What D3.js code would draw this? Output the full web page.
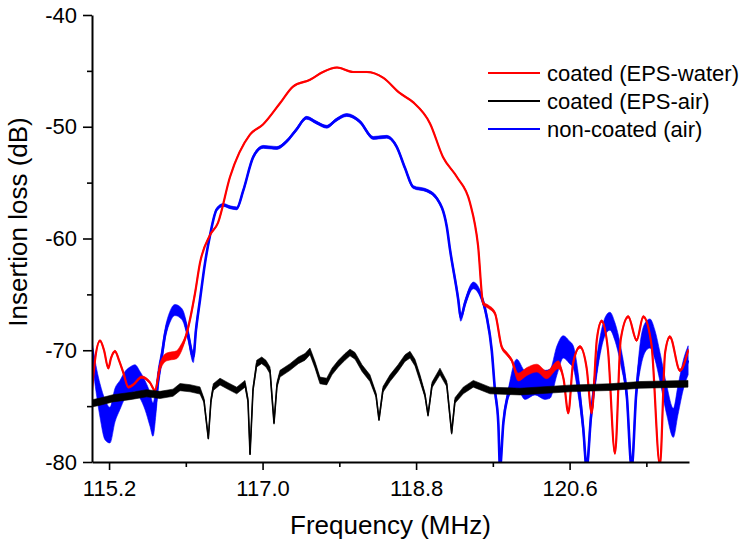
<!DOCTYPE html>
<html>
<head>
<meta charset="utf-8">
<script src="https://cdn.jsdelivr.net/npm/d3@7"></script>
<style>
  html, body { margin: 0; padding: 0; background: #fff; }
  svg { display: block; }
  text { font-family: "Liberation Sans", Arial, sans-serif; fill: #000; }
</style>
</head>
<body>
<svg id="chart" width="752" height="545"></svg>
<script>
// ---------- data ----------
const xMajorTicks = [115.2, 117.0, 118.8, 120.6];
const xMinorTicks = [116.1, 117.9, 119.7, 121.5];
const yMajorTicks = [-80, -70, -60, -50, -40];
const yMinorTicks = [-75, -65, -55, -45];

const seriesNames = ["coated (EPS-water)", "coated (EPS-air)", "non-coated (air)"];
const seriesColors = ["#ff0000", "#000000", "#0000ff"];

// coated (EPS-water) – red
const redFreq = [115.00,115.035,115.094,115.141,115.191,115.223,115.270,115.317,115.367,115.426,115.481,115.583,115.680,115.739,115.797,115.876,115.993,116.032,116.110,116.208,116.266,116.383,116.477,116.618,116.852,117.005,117.204,117.357,117.556,117.708,117.873,118.060,118.224,118.412,118.611,118.764,118.963,119.115,119.279,119.432,119.526,119.587,119.646,119.725,119.804,119.862,119.921,119.998,120.100,120.214,120.331,120.467,120.53,120.585,120.64,120.722,120.80,120.859,120.92,120.976,121.05,121.132,121.20,121.288,121.386,121.464,121.56,121.659,121.72,121.776,121.894,121.99];
const redDB   = [-73.6,-70.9,-69.15,-70.0,-71.6,-70.7,-70.1,-70.9,-72.0,-73.3,-73.1,-72.4,-72.9,-73.6,-71.5,-70.6,-70.4,-70.0,-68.5,-64.9,-62.2,-59.7,-58.6,-54.5,-50.7,-49.8,-47.9,-46.4,-45.8,-45.1,-44.7,-45.1,-45.1,-45.6,-47.0,-47.8,-49.7,-52.7,-54.5,-56.8,-60.6,-65.8,-66.1,-66.7,-69.7,-70.3,-70.9,-72.4,-71.9,-71.6,-72.2,-71.3,-72.6,-75.6,-71.2,-69.7,-71.6,-75.6,-69.0,-67.4,-70.0,-79.2,-69.0,-67.0,-69.1,-67.0,-69.5,-80.3,-70.2,-68.8,-71.8,-70.0];
const redNoise = [0.1,0.1,0.1,0.1,0.1,0.1,0.1,0.1,0.1,0.1,0.1,0.1,0.1,0.1,
  0.35,0.35,0.35,0.35,0.15,0.15,
  0.05,0.05,0.05,0.05,0.05,0.05,0.05,0.05,0.05,0.05,0.05,0.05,0.05,0.05,0.05,0.05,0.05,0.05,0.05,0.05,0.05,
  0.15,0.15,0.15,0.15,0.15,0.15,
  0.35,0.35,0.35,0.35,0.35,
  0.12,0.12,0.12,0.12,0.12,0.12,0.12,0.12,0.12,0.12,0.12,0.12,0.12,0.12,0.12,0.12,0.12,0.12,0.12,0.12];

// coated (EPS-air) – black
const blackFreq = [115.00,115.094,115.246,115.446,115.641,115.797,115.950,116.032,116.149,116.266,116.313,116.364,116.395,116.422,116.501,116.595,116.697,116.794,116.829,116.853,116.888,116.931,116.990,117.040,117.087,117.134,117.169,117.204,117.322,117.419,117.497,117.556,117.615,117.673,117.752,117.814,117.888,117.966,118.025,118.084,118.166,118.259,118.330,118.365,118.412,118.494,118.588,118.670,118.729,118.787,118.846,118.904,118.940,118.987,119.080,119.159,119.217,119.256,119.353,119.471,119.667,120.018,120.640,121.073,121.425,121.988];
const blackDB   = [-74.75,-74.6,-74.3,-74.1,-73.85,-74.0,-73.8,-73.3,-73.4,-73.6,-74.5,-77.9,-74.5,-73.3,-72.8,-73.2,-73.6,-73.0,-74.5,-79.3,-73.5,-71.2,-70.9,-71.2,-71.8,-76.5,-73.1,-72.1,-71.5,-70.9,-70.6,-70.1,-71.3,-72.7,-72.8,-71.9,-71.2,-70.6,-70.2,-70.5,-71.6,-72.5,-74.0,-76.2,-73.5,-72.5,-71.6,-70.7,-70.4,-71.1,-72.5,-74.0,-75.8,-73.1,-71.9,-73.0,-77.4,-74.5,-73.6,-73.0,-73.6,-73.7,-73.4,-73.3,-73.1,-73.0];
const blackNoise = [0.32,0.32,0.32,0.32,0.32,0.32,0.32,0.32,0.32,0.32,0.2,0.06,0.2,0.3,0.3,0.3,0.3,0.3,0.2,0.06,0.2,0.3,0.3,0.3,0.3,0.12,0.25,0.3,0.3,0.3,0.3,0.3,0.3,0.3,0.3,0.3,0.3,0.3,0.3,0.3,0.3,0.3,0.2,0.12,0.25,0.3,0.3,0.3,0.3,0.3,0.3,0.2,0.12,0.25,0.3,0.25,0.12,0.25,0.3,0.3,0.3,0.3,0.3,0.3,0.3,0.3];

// non-coated (air) – blue
const blueFreq = [115.00,115.023,115.055,115.094,115.152,115.211,115.270,115.328,115.387,115.446,115.504,115.563,115.621,115.680,115.715,115.750,115.774,115.817,115.856,115.915,115.973,116.032,116.071,116.126,116.188,116.219,116.266,116.325,116.384,116.462,116.540,116.618,116.697,116.774,116.891,117.009,117.166,117.283,117.392,117.517,117.626,117.752,117.861,117.986,118.142,118.298,118.455,118.573,118.670,118.767,118.924,119.042,119.159,119.198,119.295,119.323,119.373,119.471,119.549,119.628,119.687,119.725,119.764,119.784,119.823,119.881,119.980,
  120.077,120.194,120.312,120.370,120.452,120.526,120.60,120.643,120.70,120.76,120.80,120.85,120.90,120.96,121.02,121.073,121.13,121.20,121.27,121.328,121.38,121.44,121.50,121.542,121.60,121.66,121.74,121.816,121.87,121.94,121.99];
const blueDB   = [-70.0,-71.3,-72.9,-74.5,-76.2,-76.7,-74.9,-74.0,-73.1,-72.7,-72.5,-73.1,-74.0,-75.3,-76.2,-74.5,-72.7,-70.6,-68.6,-67.0,-66.4,-66.6,-67.0,-68.6,-70.6,-68.2,-65.5,-62.2,-59.7,-57.4,-57.0,-57.2,-57.3,-55.7,-52.7,-51.8,-51.9,-51.3,-50.3,-49.2,-49.6,-50.0,-49.4,-48.95,-49.55,-51.0,-50.9,-51.8,-53.7,-55.4,-55.7,-56.4,-58.9,-61.0,-65.5,-67.1,-65.8,-64.2,-64.9,-67.0,-70.0,-73.6,-76.5,-80.5,-76.5,-73.9,-72.1,
  -73.1,-72.7,-73.1,-73.0,-70.9,-69.7,-70.2,-70.6,-73.0,-77.0,-80.5,-76.0,-72.5,-69.5,-67.8,-67.4,-68.3,-70.5,-74.0,-80.5,-74.0,-70.0,-68.7,-68.5,-69.5,-71.5,-74.5,-76.5,-74.5,-72.0,-70.9];
const blueNoise = [0.8,1.0,1.2,1.5,1.8,1.6,1.5,1.3,1.2,1.2,1.2,1.2,1.3,1.5,1.5,1.2,0.9,0.6,0.5,0.5,0.5,0.5,0.5,0.5,0.5,0.4,
  0.13,0.13,0.13,0.13,0.13,0.13,0.13,0.13,0.13,0.13,0.13,0.13,0.13,0.13,0.13,0.13,0.13,0.13,0.13,0.13,0.13,0.13,0.13,0.13,0.13,0.13,0.13,
  0.2,0.3,0.3,0.3,0.3,0.3,0.3,0.3,0.4,0.4,0.4,0.4,0.4,1.3,
  1.3,1.3,1.3,1.3,1.3,1.0,1.0,1.0,1.0,0.6,0.6,0.6,0.8,0.8,0.8,0.8,0.8,0.8,0.6,0.6,0.6,1.3,1.3,1.3,1.3,1.3,1.3,1.3,1.3,1.3,1.3];

// ---------- drawing ----------
const svg = d3.select("#chart");
const plot = { left: 92, right: 689, top: 15, bottom: 462 };

const x = d3.scaleLinear().domain([115, 122]).range([plot.left, plot.right]);
const y = d3.scaleLinear().domain([-80, -40]).range([plot.bottom, plot.top]);

svg.append("defs").append("clipPath").attr("id", "clip")
  .append("rect")
  .attr("x", plot.left).attr("y", plot.top)
  .attr("width", plot.right - plot.left).attr("height", plot.bottom - plot.top);

const gData = svg.append("g").attr("clip-path", "url(#clip)");

function drawSeries(freq, db, noise, color, lw, curve) {
  const pts = freq.map((f, i) => ({ f: f, v: db[i], n: noise[i] }));
  const area = d3.area()
    .x(d => x(d.f))
    .y0(d => y(d.v - d.n))
    .y1(d => y(d.v + d.n))
    .curve(curve);
  const line = d3.line().x(d => x(d.f)).y(d => y(d.v)).curve(curve);
  gData.append("path").datum(pts).attr("d", area)
    .attr("fill", color).attr("stroke", color).attr("stroke-width", 0.6);
  gData.append("path").datum(pts).attr("d", line)
    .attr("fill", "none").attr("stroke", color)
    .attr("stroke-width", lw).attr("stroke-linejoin", "round");
}

drawSeries(blueFreq, blueDB, blueNoise, seriesColors[2], 2.6, d3.curveMonotoneX);
drawSeries(redFreq, redDB, redNoise, seriesColors[0], 2.2, d3.curveMonotoneX);
drawSeries(blackFreq, blackDB, blackNoise, seriesColors[1], 1.6, d3.curveLinear);

// axes
const fontTick = 22;
svg.append("g").attr("transform", `translate(0,${plot.bottom})`)
  .call(d3.axisBottom(x).tickValues(xMajorTicks).tickFormat(d3.format(".1f"))
    .tickSize(8).tickPadding(10).tickSizeOuter(0));
svg.append("g").attr("transform", `translate(0,${plot.bottom})`)
  .call(d3.axisBottom(x).tickValues(xMinorTicks).tickFormat("").tickSize(5).tickSizeOuter(0))
  .select(".domain").remove();

svg.append("g").attr("transform", `translate(${plot.left},0)`)
  .call(d3.axisLeft(y).tickValues(yMajorTicks).tickFormat(d => String(d))
    .tickSize(9).tickPadding(6).tickSizeOuter(0));
svg.append("g").attr("transform", `translate(${plot.left},0)`)
  .call(d3.axisLeft(y).tickValues(yMinorTicks).tickFormat("").tickSize(5).tickSizeOuter(0))
  .select(".domain").remove();

svg.selectAll(".domain").attr("stroke", "#000").attr("stroke-width", 2);
svg.selectAll(".tick line").attr("stroke", "#000").attr("stroke-width", 1.6);
svg.selectAll(".tick text")
  .style("font-family", '"Liberation Sans", Arial, sans-serif')
  .style("font-size", fontTick + "px").attr("fill", "#000");

// axis titles
svg.append("text")
  .attr("x", (plot.left + plot.right) / 2).attr("y", 534)
  .attr("text-anchor", "middle").style("font-size", "26px")
  .text("Frequency (MHz)");
svg.append("text")
  .attr("transform", "translate(27,222) rotate(-90)")
  .attr("text-anchor", "middle").style("font-size", "26px")
  .text("Insertion loss (dB)");

// legend
const legendY = [73, 101, 129];
const lg = svg.append("g");
seriesNames.forEach((name, i) => {
  lg.append("line").attr("x1", 488).attr("x2", 540)
    .attr("y1", legendY[i]).attr("y2", legendY[i])
    .attr("stroke", seriesColors[i]).attr("stroke-width", 2);
  lg.append("text").attr("x", 547).attr("y", legendY[i]).attr("dy", "0.35em")
    .style("font-size", "22px").text(name);
});
</script>
</body>
</html>
